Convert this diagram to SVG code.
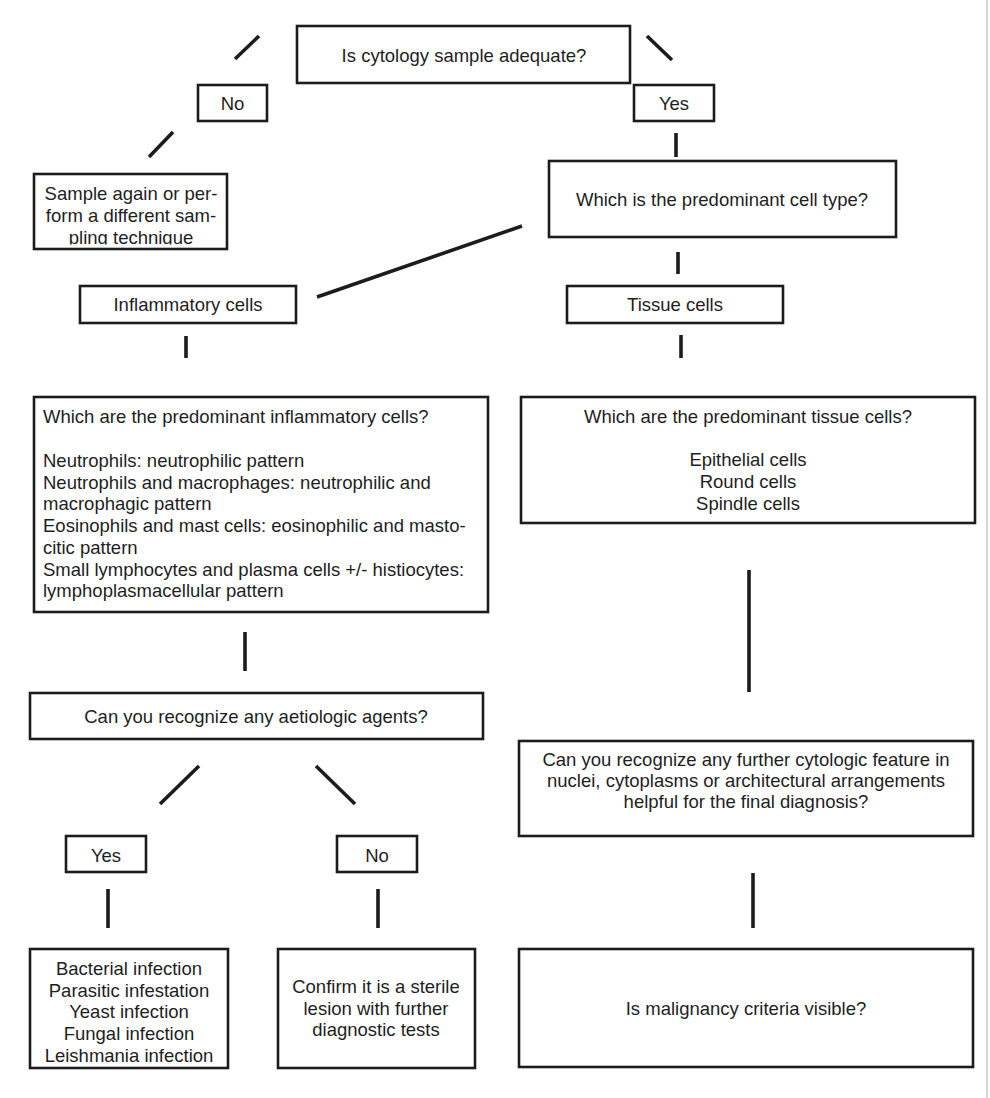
<svg xmlns="http://www.w3.org/2000/svg" width="990" height="1098" viewBox="0 0 990 1098">
<style>
.box{fill:#fff;stroke:#1c1c1c;stroke-width:2.6}
.t{font-family:"Liberation Sans",Arial,Helvetica,sans-serif;font-size:18.5px;fill:#1e1e1e}
.c{text-anchor:middle}
.ln{stroke:#1c1c1c;stroke-width:3.6;stroke-linecap:butt;fill:none}
</style>
<defs>
<clipPath id="clipSample"><rect x="34" y="174" width="193" height="70.5"/></clipPath>
</defs>
<rect x="0" y="0" width="990" height="1098" fill="#fff"/>
<line x1="987" y1="0" x2="987" y2="1098" stroke="#b8b8b8" stroke-width="1.2"/>

<g id="connectors">
<line class="ln" x1="235" y1="59" x2="259" y2="36"/>
<line class="ln" x1="149" y1="157" x2="173" y2="132"/>
<line class="ln" x1="647" y1="36" x2="672" y2="60"/>
<line class="ln" x1="676" y1="133" x2="676" y2="157"/>
<line class="ln" x1="317" y1="297" x2="522" y2="226"/>
<line class="ln" x1="678" y1="252" x2="678" y2="274"/>
<line class="ln" x1="186" y1="336" x2="186" y2="358"/>
<line class="ln" x1="681" y1="335" x2="681" y2="358"/>
<line class="ln" x1="245" y1="632" x2="245" y2="671"/>
<line class="ln" x1="749" y1="570" x2="749" y2="692"/>
<line class="ln" x1="160" y1="804" x2="199" y2="766"/>
<line class="ln" x1="316" y1="766" x2="355" y2="804"/>
<line class="ln" x1="108" y1="889" x2="108" y2="928"/>
<line class="ln" x1="378" y1="889" x2="378" y2="928"/>
<line class="ln" x1="753" y1="873" x2="753" y2="928"/>
</g>

<g id="n-adequate">
<rect class="box" x="297" y="26" width="333" height="57"/>
<text class="t c" x="464" y="61.5">Is cytology sample adequate?</text>
</g>

<g id="n-no1">
<rect class="box" x="198" y="85" width="69" height="36"/>
<text class="t c" x="232.5" y="110">No</text>
</g>

<g id="n-yes1">
<rect class="box" x="634" y="85" width="80" height="36"/>
<text class="t c" x="674" y="110">Yes</text>
</g>

<g id="n-sample">
<g clip-path="url(#clipSample)">
<text class="t c" x="131" y="200">Sample again or per-</text>
<text class="t c" x="131" y="222">form a different sam-</text>
<text class="t c" x="131" y="244">pling technique</text>
</g>
<rect x="34" y="174" width="193" height="75" fill="none" stroke="#1c1c1c" stroke-width="2.6"/>
</g>

<g id="n-celltype">
<rect class="box" x="549" y="161" width="347" height="76"/>
<text class="t c" x="722" y="206">Which is the predominant cell type?</text>
</g>

<g id="n-inflammatory">
<rect class="box" x="80" y="286" width="216" height="37"/>
<text class="t c" x="188" y="311">Inflammatory cells</text>
</g>

<g id="n-tissue">
<rect class="box" x="567" y="286" width="216" height="37"/>
<text class="t c" x="675" y="311">Tissue cells</text>
</g>

<g id="n-inflam-q">
<rect class="box" x="34" y="397" width="454" height="215"/>
<text class="t" x="43" y="423">Which are the predominant inflammatory cells?</text>
<text class="t" x="43" y="467">Neutrophils: neutrophilic pattern</text>
<text class="t" x="43" y="489">Neutrophils and macrophages: neutrophilic and</text>
<text class="t" x="43" y="510">macrophagic pattern</text>
<text class="t" x="43" y="532">Eosinophils and mast cells: eosinophilic and masto-</text>
<text class="t" x="43" y="554">citic pattern</text>
<text class="t" x="43" y="576">Small lymphocytes and plasma cells +/- histiocytes:</text>
<text class="t" x="43" y="597">lymphoplasmacellular pattern</text>
</g>

<g id="n-tissue-q">
<rect class="box" x="521" y="397" width="454" height="126"/>
<text class="t c" x="748" y="423">Which are the predominant tissue cells?</text>
<text class="t c" x="748" y="466">Epithelial cells</text>
<text class="t c" x="748" y="488">Round cells</text>
<text class="t c" x="748" y="510">Spindle cells</text>
</g>

<g id="n-aetiologic">
<rect class="box" x="30" y="693" width="453" height="46"/>
<text class="t c" x="256" y="723">Can you recognize any aetiologic agents?</text>
</g>

<g id="n-further">
<rect class="box" x="519" y="741" width="454" height="95"/>
<text class="t c" x="746" y="766">Can you recognize any further cytologic feature in</text>
<text class="t c" x="746" y="787">nuclei, cytoplasms or architectural arrangements</text>
<text class="t c" x="746" y="808">helpful for the final diagnosis?</text>
</g>

<g id="n-yes2">
<rect class="box" x="66" y="836" width="80" height="36"/>
<text class="t c" x="106" y="862">Yes</text>
</g>

<g id="n-no2">
<rect class="box" x="337" y="836" width="80" height="36"/>
<text class="t c" x="377" y="862">No</text>
</g>

<g id="n-infections">
<rect class="box" x="30" y="949" width="198" height="119"/>
<text class="t c" x="129" y="975">Bacterial infection</text>
<text class="t c" x="129" y="997">Parasitic infestation</text>
<text class="t c" x="129" y="1018">Yeast infection</text>
<text class="t c" x="129" y="1040">Fungal infection</text>
<text class="t c" x="129" y="1062">Leishmania infection</text>
</g>

<g id="n-sterile">
<rect class="box" x="278" y="949" width="197" height="119"/>
<text class="t c" x="376" y="993">Confirm it is a sterile</text>
<text class="t c" x="376" y="1015">lesion with further</text>
<text class="t c" x="376" y="1036">diagnostic tests</text>
</g>

<g id="n-malignancy">
<rect class="box" x="519" y="949" width="454" height="118"/>
<text class="t c" x="746" y="1015">Is malignancy criteria visible?</text>
</g>
</svg>
